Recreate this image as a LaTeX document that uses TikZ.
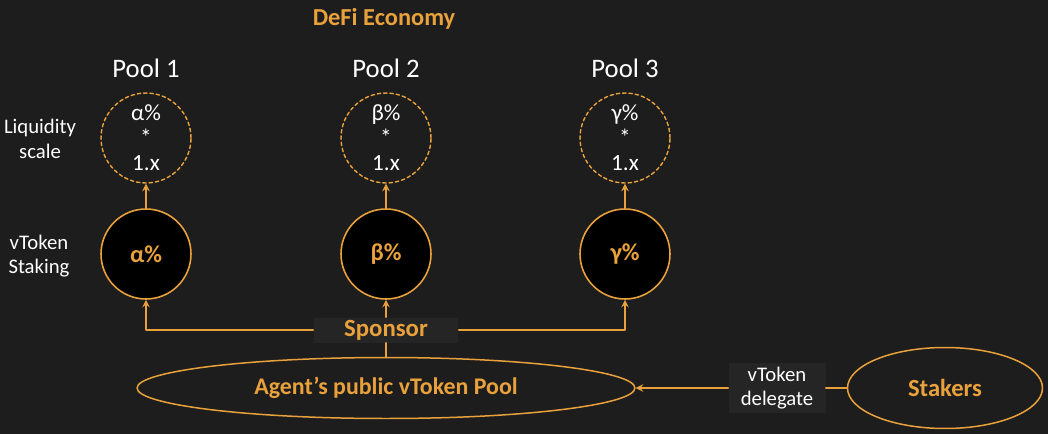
\documentclass[tikz,border=0pt]{standalone}
\usepackage{fontspec}
\setmainfont{Carlito}
\usetikzlibrary{shapes.geometric}
\definecolor{defiorange}{HTML}{E9A23B}
\definecolor{bgdark}{HTML}{1D1D1D}
\definecolor{boxdark}{HTML}{252525}
\begin{document}
\begin{tikzpicture}[x=0.02cm,y=-0.02cm,>=stealth,line join=round,line cap=round]
		%%%%Kiểu
		\tikzset{
			conn/.style={draw=defiorange,line width=0.9pt},
			heading/.style={text=defiorange,font=\fontsize{13.9}{16}\selectfont\bfseries},
			pooltitle/.style={text=white,font=\fontsize{15.2}{18}\selectfont},
			sidelabel/.style={text=white,align=center,font=\fontsize{11.8}{14}\selectfont},
			scalecirc/.style={circle,draw=defiorange,dashed,dash pattern=on 2pt off 1.6pt,line width=0.8pt,minimum size=1.8cm,inner sep=0pt,text=white,align=center,font=\fontsize{13.2}{14.2}\selectfont},
			stakecirc/.style={circle,draw=defiorange,fill=black,line width=0.9pt,minimum size=1.8cm,inner sep=0pt,text=defiorange,font=\fontsize{13.8}{16}\selectfont\bfseries},
			labbox/.style={fill=boxdark,minimum width=2.9cm,minimum height=0.5cm,inner sep=0pt,text=defiorange,font=\fontsize{14.1}{16}\selectfont\bfseries},
			delbox/.style={fill=boxdark,minimum width=1.94cm,minimum height=1cm,inner sep=0pt,text=white,align=center,font=\fontsize{11.8}{13.8}\selectfont},
			poolell/.style={ellipse,draw=defiorange,line width=0.85pt,inner sep=0pt,text=defiorange,font=\bfseries}
		}
		%%%%Nền
		\useasboundingbox (0,0) rectangle (1048,433);
		\fill[bgdark] (-6,-6) rectangle (1054,439);
		\node[heading] (defi) at (384,19) {DeFi Economy};
		\node[sidelabel] (liquidity) at (40,139) {Liquidity\\scale};
		\node[sidelabel] (staking) at (39,256) {vToken\\Staking};
		%%%%Các pool
		\foreach \i/\x/\g in {1/146/α,2/386/β,3/625/γ}{
			\node[pooltitle] (title\i) at (\x,68) {Pool \i};
			\node[scalecirc] (scale\i) at (\x,138) {\g\%\\*\\1.x};
			\node[stakecirc] (stake\i) at (\x,254) {\g\%};
			\draw[conn,->] (stake\i) -- (scale\i);
		}
		%%%%Sponsor
		\node[labbox] (sponsor) at (386,330) {Sponsor};
		\node[poolell,minimum width=9.96cm,minimum height=1.22cm,font=\fontsize{13.6}{16}\selectfont\bfseries] (agent) at (386,388) {Agent’s public vToken Pool};
		\draw[conn,->] (sponsor) -- (stake2);
		\draw[conn,->] (sponsor.west) -| (stake1);
		\draw[conn,->] (sponsor.east) -| (stake3);
		\draw[conn] (agent) -- (sponsor);
		%%%%Stakers
		\node[poolell,minimum width=3.9cm,minimum height=1.62cm,font=\fontsize{14}{16}\selectfont\bfseries] (stakers) at (945,388) {Stakers};
		\node[delbox] (delegate) at (777,388) {vToken\\delegate};
		\draw[conn] (stakers) -- (delegate);
		\draw[conn,->] (delegate) -- (agent);
\end{tikzpicture}
\end{document}
